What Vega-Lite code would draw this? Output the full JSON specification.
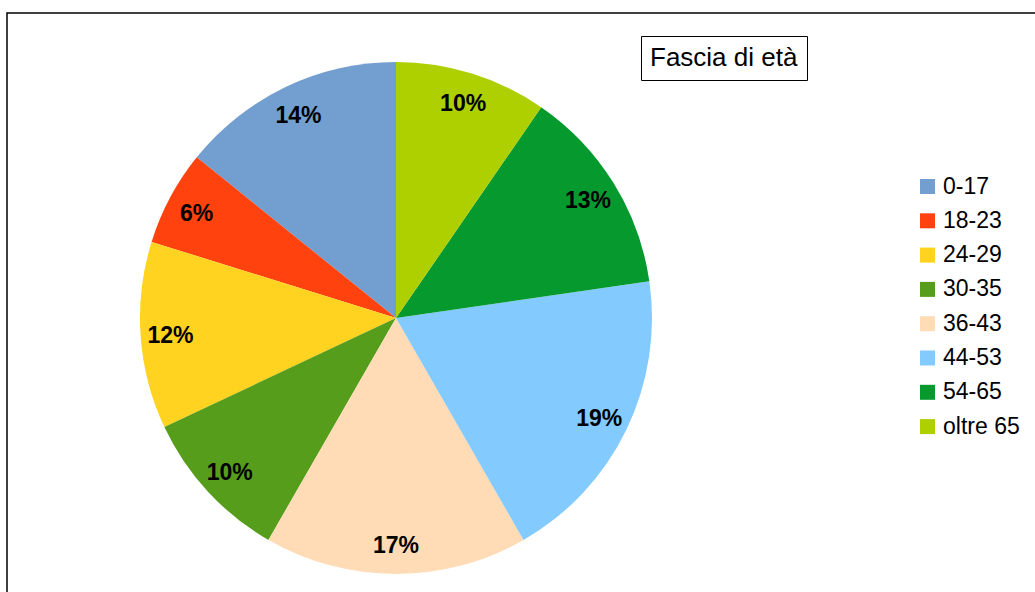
{
  "$schema": "https://vega.github.io/schema/vega-lite/v6.json",
  "width": 1040,
  "height": 600,
  "padding": {"left": 7, "top": 13, "right": 0, "bottom": 0},
  "autosize": {"type": "none"},
  "background": "white",
  "config": {
    "view": {"stroke": null},
    "font": "Liberation Sans"
  },
  "data": {
    "values": [
      {"fascia": "0-17", "quota": 0.142, "gruppo": "Fascia di età"},
      {"fascia": "18-23", "quota": 0.060, "gruppo": "Fascia di età"},
      {"fascia": "24-29", "quota": 0.118, "gruppo": "Fascia di età"},
      {"fascia": "30-35", "quota": 0.097, "gruppo": "Fascia di età"},
      {"fascia": "36-43", "quota": 0.166, "gruppo": "Fascia di età"},
      {"fascia": "44-53", "quota": 0.190, "gruppo": "Fascia di età"},
      {"fascia": "54-65", "quota": 0.131, "gruppo": "Fascia di età"},
      {"fascia": "oltre 65", "quota": 0.096, "gruppo": "Fascia di età"}
    ]
  },
  "layer": [
    {
      "data": {"values": [{"cornice": "bordo"}]},
      "mark": {"type": "rect", "fill": null, "fillOpacity": 0, "stroke": "black", "strokeWidth": 1.5},
      "encoding": {}
    },
    {
      "mark": {"type": "arc", "x": 389, "y": 305, "outerRadius": 256},
      "encoding": {
        "theta": {"field": "quota", "type": "quantitative", "stack": true},
        "order": {"field": "fascia", "sort": "descending"},
        "color": {
          "field": "fascia",
          "type": "nominal",
          "scale": {
            "domain": ["0-17", "18-23", "24-29", "30-35", "36-43", "44-53", "54-65", "oltre 65"],
            "range": ["#729fcf", "#ff420e", "#ffd320", "#579d1c", "#ffdbb6", "#83caff", "#069a2e", "#aecf00"]
          },
          "legend": {
            "title": null,
            "orient": "none",
            "legendX": 909,
            "legendY": 162,
            "padding": 0,
            "symbolType": "square",
            "symbolSize": 225,
            "symbolStrokeWidth": 0,
            "labelFontSize": 23,
            "labelColor": "black",
            "labelOffset": 4,
            "rowPadding": 10.3
          }
        },
        "opacity": {
          "field": "gruppo",
          "type": "nominal",
          "scale": {"range": [1, 1]},
          "legend": {
            "values": [],
            "title": "Fascia di età",
            "orient": "none",
            "legendX": 634,
            "legendY": 23,
            "padding": 9,
            "strokeColor": "black",
            "titleFontSize": 26,
            "titleFontWeight": "normal",
            "titleColor": "black",
            "titlePadding": 0
          }
        }
      }
    },
    {
      "mark": {"type": "text", "x": 389, "y": 305, "radius": 226, "dy": 2, "fontWeight": "bold", "fontSize": 23, "fill": "black"},
      "encoding": {
        "theta": {"field": "quota", "type": "quantitative", "stack": true},
        "order": {"field": "fascia", "sort": "descending"},
        "text": {"field": "quota", "type": "quantitative", "format": ".0%"}
      }
    }
  ]
}
